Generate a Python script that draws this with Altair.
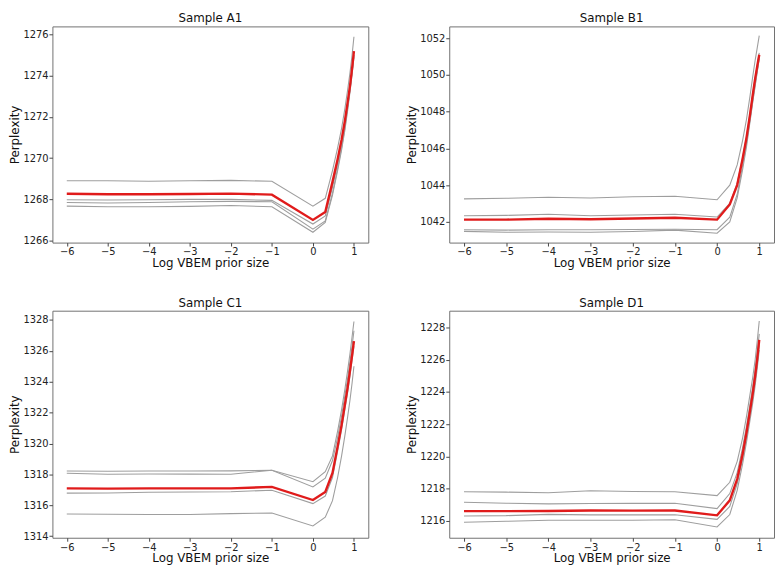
import altair as alt
import pandas as pd

x_vals = [-6, -5, -4, -3, -2, -1, 0, 0.301, 0.477, 0.602, 0.699, 0.778, 0.845, 0.903, 0.954, 1.0]
x_ticks = [-6, -5, -4, -3, -2, -1, 0, 1]

# Sample A1
a_g1 = [1268.90, 1268.90, 1268.88, 1268.90, 1268.92, 1268.88, 1267.67, 1268.05, 1269.40, 1270.50, 1271.45, 1272.40, 1273.30, 1274.15, 1275.00, 1275.90]
a_g2 = [1267.98, 1267.97, 1267.98, 1268.00, 1268.00, 1267.95, 1266.80, 1267.20, 1268.60, 1269.75, 1270.70, 1271.60, 1272.50, 1273.35, 1274.20, 1275.00]
a_g3 = [1267.85, 1267.82, 1267.85, 1267.88, 1267.90, 1267.88, 1266.55, 1266.95, 1268.30, 1269.50, 1270.50, 1271.45, 1272.40, 1273.30, 1274.15, 1275.00]
a_g4 = [1267.67, 1267.64, 1267.64, 1267.66, 1267.70, 1267.64, 1266.40, 1266.88, 1268.20, 1269.40, 1270.40, 1271.35, 1272.30, 1273.20, 1274.05, 1274.90]
a_red = [1268.27, 1268.25, 1268.25, 1268.26, 1268.28, 1268.23, 1267.00, 1267.38, 1268.85, 1269.95, 1270.90, 1271.80, 1272.70, 1273.50, 1274.35, 1275.20]
a_dom = [1265.9, 1276.4]
a_ticks = [1266, 1268, 1270, 1272, 1274, 1276]

# Sample B1
b_g1 = [1043.25, 1043.28, 1043.34, 1043.30, 1043.37, 1043.39, 1043.20, 1044.00, 1045.10, 1046.40, 1047.60, 1048.80, 1049.90, 1050.80, 1051.50, 1052.14]
b_g2 = [1042.33, 1042.35, 1042.41, 1042.33, 1042.37, 1042.41, 1042.26, 1043.00, 1044.10, 1045.45, 1046.65, 1047.85, 1048.95, 1049.85, 1050.55, 1051.20]
b_g3 = [1041.57, 1041.55, 1041.57, 1041.57, 1041.58, 1041.60, 1041.57, 1042.25, 1043.50, 1045.00, 1046.30, 1047.50, 1048.55, 1049.45, 1050.20, 1050.90]
b_g4 = [1041.48, 1041.43, 1041.45, 1041.43, 1041.47, 1041.55, 1041.38, 1042.00, 1043.30, 1044.80, 1046.10, 1047.40, 1048.50, 1049.40, 1050.20, 1050.90]
b_red = [1042.12, 1042.12, 1042.17, 1042.14, 1042.18, 1042.22, 1042.12, 1042.95, 1044.00, 1045.40, 1046.60, 1047.80, 1048.90, 1049.80, 1050.50, 1051.10]
b_dom = [1040.87, 1052.64]
b_ticks = [1042, 1044, 1046, 1048, 1050, 1052]

# Sample C1
c_g1 = [1318.22, 1318.20, 1318.22, 1318.22, 1318.23, 1318.27, 1317.53, 1318.18, 1319.20, 1320.80, 1322.20, 1323.50, 1324.70, 1325.80, 1326.90, 1327.90]
c_g2 = [1318.08, 1318.01, 1318.03, 1318.02, 1318.01, 1318.27, 1317.19, 1317.76, 1318.90, 1320.40, 1321.80, 1323.10, 1324.20, 1325.30, 1326.30, 1327.30]
c_g3 = [1316.79, 1316.80, 1316.85, 1316.86, 1316.88, 1316.98, 1316.11, 1316.60, 1317.80, 1319.50, 1320.90, 1322.20, 1323.30, 1324.40, 1325.40, 1326.30]
c_g4 = [1315.44, 1315.42, 1315.41, 1315.40, 1315.46, 1315.50, 1314.66, 1315.23, 1316.30, 1317.80, 1319.20, 1320.50, 1321.70, 1322.80, 1323.90, 1325.00]
c_red = [1317.10, 1317.08, 1317.10, 1317.10, 1317.10, 1317.19, 1316.34, 1316.87, 1318.10, 1319.80, 1321.20, 1322.50, 1323.60, 1324.70, 1325.70, 1326.63]
c_dom = [1313.9, 1328.6]
c_ticks = [1314, 1316, 1318, 1320, 1322, 1324, 1326, 1328]

# Sample D1
d_g1 = [1217.81, 1217.79, 1217.75, 1217.87, 1217.83, 1217.81, 1217.57, 1218.40, 1219.70, 1221.10, 1222.50, 1223.80, 1224.90, 1226.00, 1227.20, 1228.40]
d_g2 = [1217.16, 1217.10, 1217.06, 1217.08, 1217.09, 1217.10, 1216.77, 1217.70, 1219.00, 1220.50, 1221.90, 1223.20, 1224.30, 1225.40, 1226.50, 1227.60]
d_g3 = [1216.31, 1216.33, 1216.41, 1216.38, 1216.38, 1216.39, 1216.10, 1216.90, 1218.30, 1219.80, 1221.20, 1222.50, 1223.60, 1224.70, 1225.80, 1226.90]
d_g4 = [1215.92, 1215.98, 1216.04, 1216.04, 1216.05, 1216.08, 1215.63, 1216.40, 1217.90, 1219.50, 1220.90, 1222.20, 1223.30, 1224.40, 1225.50, 1226.60]
d_red = [1216.61, 1216.61, 1216.62, 1216.65, 1216.64, 1216.65, 1216.35, 1217.28, 1218.60, 1220.10, 1221.50, 1222.80, 1223.90, 1225.00, 1226.10, 1227.23]
d_dom = [1214.96, 1229.04]
d_ticks = [1216, 1218, 1220, 1222, 1224, 1226, 1228]

panels = [
    ("Sample A1", [a_g1, a_g2, a_g3, a_g4], a_red, a_dom, a_ticks, 320, 219),
    ("Sample B1", [b_g1, b_g2, b_g3, b_g4], b_red, b_dom, b_ticks, 329, 219),
    ("Sample C1", [c_g1, c_g2, c_g3, c_g4], c_red, c_dom, c_ticks, 320, 230),
    ("Sample D1", [d_g1, d_g2, d_g3, d_g4], d_red, d_dom, d_ticks, 329, 230),
]

FONT = "DejaVu Sans"
charts = []
for title, grays, red, dom, yt, w, h in panels:
    rows = []
    for i, g in enumerate(grays):
        for xv, yv in zip(x_vals, g):
            rows.append({"x": xv, "y": yv, "run": f"g{i}"})
    gdf = pd.DataFrame(rows)
    rdf = pd.DataFrame({"x": x_vals, "y": red})
    xenc = alt.X("x:Q", scale=alt.Scale(domain=[-6.35, 1.35], nice=False, zero=False),
                 axis=alt.Axis(values=x_ticks, title="Log VBEM prior size", format="d"))
    yenc = alt.Y("y:Q", scale=alt.Scale(domain=dom, nice=False, zero=False),
                 axis=alt.Axis(values=yt, title="Perplexity", format="d"))
    gl = alt.Chart(gdf).mark_line(color="#9e9e9e", strokeWidth=1.1).encode(x=xenc, y=yenc, detail="run:N")
    rl = alt.Chart(rdf).mark_line(color="#e01b1b", strokeWidth=2.4).encode(x=xenc, y=yenc)
    charts.append(alt.layer(gl, rl).properties(width=w, height=h, title=title))

chart = alt.concat(*charts, columns=2, spacing={"row": 69, "column": 82}, bounds="flush").properties(
    padding=0
).configure_view(stroke="#707070", strokeWidth=1).configure_axis(
    domain=False, grid=False, tickColor="#444", tickSize=3.5, labelColor="#222",
    labelFont=FONT, labelFontSize=10, labelPadding=1, titleFont=FONT, titleFontSize=12,
    titleFontWeight="normal", titleColor="#111", titlePadding=1
).configure_title(font=FONT, fontSize=12, fontWeight="normal", color="#111", offset=1)

chart.save("out.html", embed_options={"renderer": "svg", "actions": False})
